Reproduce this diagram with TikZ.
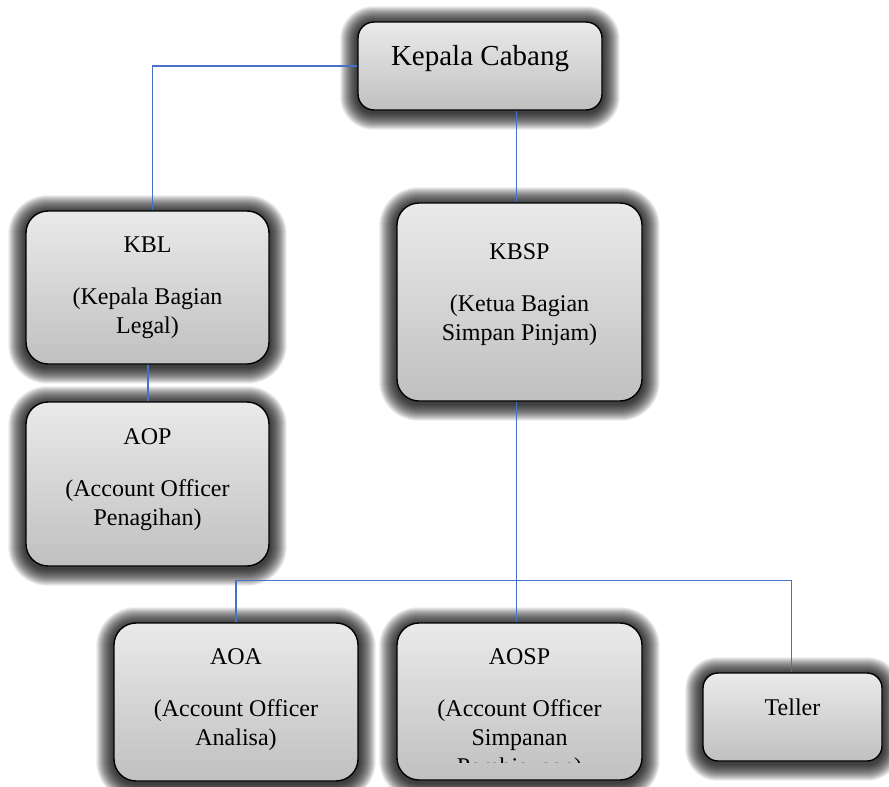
\documentclass[tikz,border=0pt]{standalone}
\usepackage{fontspec}
\setmainfont{Liberation Serif}
\usetikzlibrary{backgrounds}
\definecolor{conncol}{HTML}{4472C4}
\definecolor{boxtop}{HTML}{EAEAEA}
\definecolor{boxbot}{HTML}{C0C0C0}
\tikzset{
  orgbox/.style={rectangle, draw=black, line width=1.4pt, top color=boxtop, bottom color=boxbot, inner sep=0pt},
  conn/.style={draw=conncol, line width=1.4pt},
  lbl/.style={align=center, font=\fontsize{24}{29}\selectfont, inner sep=0pt},
}
\newcommand{\glowaround}[2]{%
  \foreach \k in {1,...,17}{%
    \pgfmathsetmacro{\rr}{#2+\k}%
    \fill[black, opacity=0.075, rounded corners=\rr pt]
      ([shift={(-\k pt,-\k pt-2pt)}]#1.south west) rectangle ([shift={(\k pt,\k pt-2pt)}]#1.north east);
  }%
}
\begin{document}
\begin{tikzpicture}[x=1pt,y=-1pt]
\useasboundingbox (0,0) rectangle (889,787);

% boxes
\node[orgbox, rounded corners=16pt, minimum width=244pt, minimum height=88pt] (kc) at (480,66) {};
\node[orgbox, rounded corners=22pt, minimum width=243pt, minimum height=153pt] (kbl) at (147.5,287.5) {};
\node[orgbox, rounded corners=22pt, minimum width=243pt, minimum height=164pt] (aop) at (147.5,484) {};
\node[orgbox, rounded corners=22pt, minimum width=245pt, minimum height=198pt] (kbsp) at (519.5,302) {};
\node[orgbox, rounded corners=22pt, minimum width=244pt, minimum height=158pt] (aoa) at (236,702) {};
\node[orgbox, rounded corners=22pt, minimum width=245pt, minimum height=157pt] (aosp) at (519.5,701.5) {};
\node[orgbox, rounded corners=15pt, minimum width=179pt, minimum height=88pt] (teller) at (792.5,717) {};

% glow behind boxes
\begin{scope}[on background layer]
  \fill[white] (0,0) rectangle (889,787);
  \glowaround{kc}{16}
  \glowaround{kbl}{22}
  \glowaround{aop}{22}
  \glowaround{kbsp}{22}
  \glowaround{aoa}{22}
  \glowaround{aosp}{22}
  \glowaround{teller}{15}
\end{scope}

% connectors
\coordinate (busy) at (0,580.5);
\draw[conn] (kc.west) -| ([xshift=5pt]kbl.north);
\draw[conn] ([xshift=-3pt]kbsp.north |- kc.south) -- ([xshift=-3pt]kbsp.north);
\draw[conn] ([xshift=0.5pt]kbl.south) -- ([xshift=0.5pt]aop.north);
\draw[conn] ([xshift=-3pt]kbsp.south) -- ([xshift=-3pt]aosp.north);
\draw[conn] (aoa.north) -- (aoa.north |- busy) -- ([xshift=-1pt]teller.north |- busy) -- ([xshift=-1pt]teller.north);

% texts
\node[lbl, font=\fontsize{29}{35}\selectfont] (kc-t) at (480,59) {Kepala Cabang};
\node[lbl] (kbl-t) at (147.5,288) {KBL\\[23pt](Kepala Bagian\\Legal)};
\node[lbl] (aop-t) at (147.5,480) {AOP\\[23pt](Account Officer\\Penagihan)};
\node[lbl] (kbsp-t) at (519.5,295) {KBSP\\[23pt](Ketua Bagian\\Simpan Pinjam)};
\node[lbl] (aoa-t) at (236,700) {AOA\\[23pt](Account Officer\\Analisa)};
\begin{scope}
  \clip (aosp.north west) rectangle ([yshift=18pt]aosp.south east);
  \node[lbl] (aosp-t) at (519.5,714.5) {AOSP\\[23pt](Account Officer\\Simpanan\\Pembiayaan)};
\end{scope}
\node[lbl] (teller-t) at (792.5,707) {Teller};
\end{tikzpicture}
\end{document}
